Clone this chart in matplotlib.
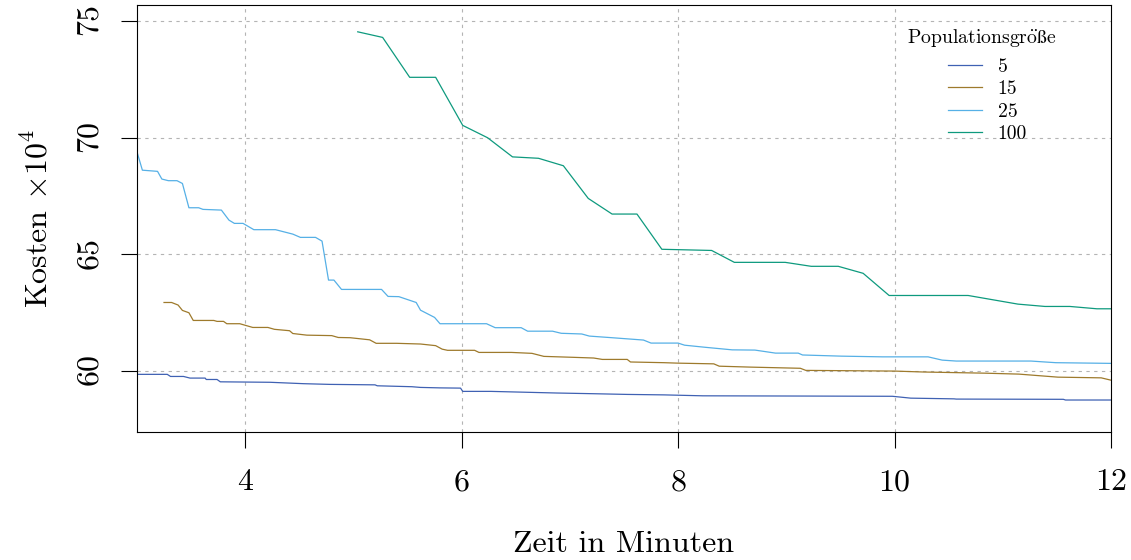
import matplotlib
matplotlib.use('Agg')
import matplotlib.pyplot as plt

plt.rcParams['font.family'] = ['cmr10', 'DejaVu Serif']
plt.rcParams['mathtext.fontset'] = 'cm'
plt.rcParams['axes.formatter.use_mathtext'] = True

# Populationsgröße 5
x_5 = [3.00, 3.28, 3.31, 3.43, 3.49, 3.63, 3.64, 3.74, 3.77, 4.23, 4.54, 4.78, 5.20, 5.22,
       5.54, 5.62, 5.80, 5.99, 6.01, 6.27, 6.88, 7.22, 7.53, 7.87, 8.23, 9.16, 9.98, 10.15,
       10.55, 10.57, 11.56, 11.58, 12.00]
y_5 = [59.86, 59.86, 59.77, 59.77, 59.70, 59.70, 59.64, 59.64, 59.54, 59.52, 59.46, 59.43,
       59.41, 59.37, 59.33, 59.30, 59.28, 59.27, 59.13, 59.13, 59.06, 59.03, 59.00, 58.98,
       58.94, 58.93, 58.92, 58.84, 58.81, 58.80, 58.79, 58.76, 58.76]

# Populationsgröße 15
x_15 = [3.25, 3.32, 3.38, 3.42, 3.48, 3.52, 3.71, 3.74, 3.80, 3.83, 3.95, 4.07, 4.21, 4.27,
        4.41, 4.44, 4.57, 4.80, 4.86, 4.97, 5.15, 5.21, 5.40, 5.62, 5.76, 5.82, 5.87, 6.12,
        6.16, 6.46, 6.65, 6.76, 7.03, 7.22, 7.30, 7.53, 7.56, 7.87, 8.00, 8.33, 8.38, 8.67,
        9.13, 9.18, 10.00, 10.27, 10.84, 11.15, 11.51, 11.91, 12.00]
y_15 = [62.94, 62.94, 62.83, 62.60, 62.50, 62.17, 62.17, 62.13, 62.13, 62.03, 62.03, 61.87,
        61.87, 61.79, 61.73, 61.61, 61.54, 61.52, 61.44, 61.43, 61.34, 61.19, 61.19, 61.16,
        61.09, 60.94, 60.89, 60.89, 60.80, 60.80, 60.76, 60.63, 60.59, 60.56, 60.50, 60.50,
        60.39, 60.36, 60.34, 60.31, 60.21, 60.17, 60.12, 60.03, 60.00, 59.96, 59.91, 59.87,
        59.74, 59.71, 59.61]

# Populationsgröße 25
x_25 = [3.00, 3.05, 3.19, 3.23, 3.29, 3.37, 3.42, 3.48, 3.57, 3.61, 3.78, 3.85, 3.90, 3.98,
        4.08, 4.28, 4.44, 4.51, 4.65, 4.71, 4.77, 4.82, 4.89, 5.26, 5.32, 5.42, 5.58, 5.62,
        5.75, 5.80, 6.23, 6.31, 6.55, 6.61, 6.84, 6.92, 7.11, 7.18, 7.39, 7.68, 7.75, 8.00,
        8.06, 8.25, 8.50, 8.71, 8.90, 9.11, 9.15, 9.51, 9.89, 10.31, 10.44, 10.57, 11.26,
        11.39, 11.49, 12.00]
y_25 = [69.40, 68.61, 68.56, 68.23, 68.16, 68.16, 68.04, 67.00, 67.00, 66.93, 66.90, 66.47,
        66.33, 66.33, 66.06, 66.06, 65.87, 65.73, 65.73, 65.57, 63.90, 63.90, 63.50, 63.50,
        63.20, 63.19, 62.94, 62.61, 62.30, 62.03, 62.03, 61.86, 61.86, 61.71, 61.71, 61.62,
        61.59, 61.50, 61.43, 61.33, 61.20, 61.20, 61.11, 61.02, 60.91, 60.90, 60.77, 60.77,
        60.69, 60.64, 60.61, 60.61, 60.47, 60.43, 60.43, 60.39, 60.36, 60.33]

# Populationsgröße 100
x_100 = [5.04, 5.27, 5.52, 5.76, 6.01, 6.24, 6.47, 6.71, 6.94, 7.17, 7.39, 7.62, 7.85, 8.31,
         8.52, 8.99, 9.23, 9.48, 9.71, 9.95, 10.68, 11.14, 11.39, 11.62, 11.87, 12.00]
y_100 = [74.54, 74.30, 72.59, 72.59, 70.53, 70.00, 69.18, 69.12, 68.80, 67.40, 66.73, 66.73,
         65.22, 65.17, 64.66, 64.66, 64.49, 64.49, 64.19, 63.24, 63.24, 62.87, 62.77, 62.77,
         62.67, 62.67]

series = [('5', x_5, y_5, '#3f61b3'),
          ('15', x_15, y_15, '#9e7a2c'),
          ('25', x_25, y_25, '#56b0e6'),
          ('100', x_100, y_100, '#0e9a7e')]

fig = plt.figure(figsize=(11.31, 5.6), dpi=100)
ax = fig.add_axes([0.1211, 0.2286, 0.8612, 0.7625])

for lab, xs, ys, col in series:
    ax.plot(xs, ys, color=col, lw=0.9, label=lab)

ax.set_xlim(3, 12)
ax.set_ylim(57.39, 75.69)
ax.set_xticks([4, 6, 8, 10, 12])
ax.set_yticks([60, 65, 70, 75])
for v in [4, 6, 8, 10]:
    ax.axvline(v, color='#b4b4b4', lw=0.8, ls=(0, (3, 4)), zorder=0)
for v in [60, 65, 70, 75]:
    ax.axhline(v, color='#b4b4b4', lw=0.8, ls=(0, (3, 4)), zorder=0)

ax.tick_params(axis='both', length=11.5, width=0.8, labelsize=23, color='black')
ax.tick_params(axis='x', pad=15)
ax.tick_params(axis='y', pad=12)
for t in ax.get_yticklabels():
    t.set_rotation(90)
    t.set_va('center')
for s in ax.spines.values():
    s.set_linewidth(0.8)

ax.set_xlabel('Zeit in Minuten', fontsize=23, labelpad=25)
ax.set_ylabel(r'Kosten $\times 10^4$', fontsize=23, labelpad=17)

# Legende: Titel separat, damit der Abstand zu den Einträgen passt
ax.text(0.7906, 0.9227, r'Populationsgr$\ddot{\mathrm{o}}\mathrm{\ss}$e', transform=ax.transAxes,
        fontsize=14.2, ha='left', va='center')
leg = ax.legend(loc='upper left', bbox_to_anchor=(0.8326, 0.876),
                frameon=False, fontsize=14.2, handlelength=1.72,
                handletextpad=0.81, labelspacing=0.23, borderpad=0, borderaxespad=0)

fig.savefig('out.png', dpi=100)
